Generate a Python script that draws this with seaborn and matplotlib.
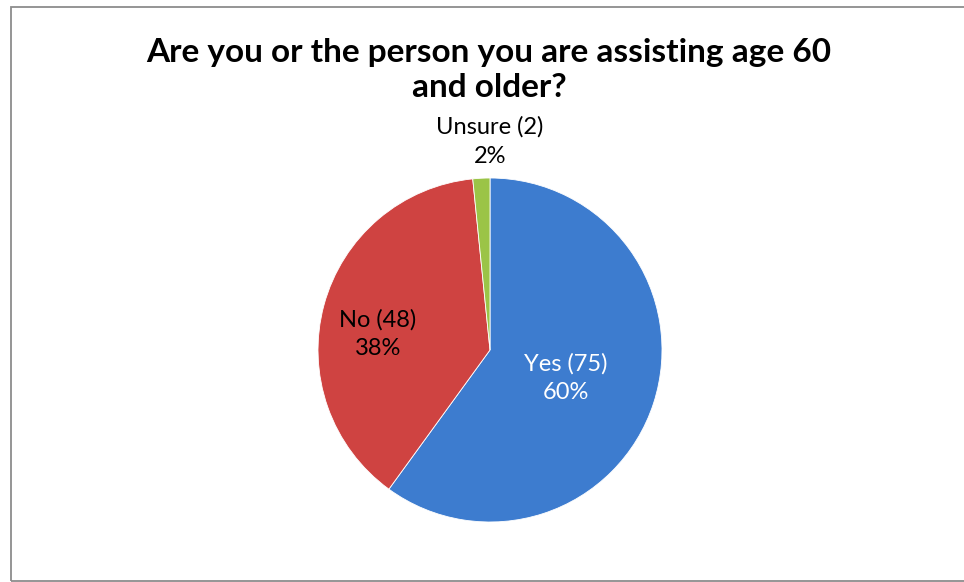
import matplotlib
matplotlib.use("Agg")
import matplotlib.pyplot as plt
import seaborn as sns
import numpy as np
from matplotlib.patches import Rectangle

sns.set_theme(style="white")
plt.rcParams["font.family"] = ["Lato", "DejaVu Sans"]

# Survey answers
categories = ["Yes", "No", "Unsure"]
counts = [75, 48, 2]
percents = ["60%", "38%", "2%"]
title = "Are you or the person you are assisting age 60\nand older?"

colors = ["#3D7CCF", "#CF4341", "#9BC447"]
label_colors = ["white", "black", "black"]

W, H = 964, 582
fig = plt.figure(figsize=(W / 100, H / 100), dpi=100)
fig.patch.set_facecolor("white")

# Chart frame
frame = Rectangle((10.5 / W, 1 - 580.5 / H), 1.2, (580.5 - 6.5) / H,
                  transform=fig.transFigure, fill=False,
                  edgecolor="#8c8c8c", linewidth=1.3)
fig.add_artist(frame)

# Pie axes: centre (490, 350) px, radius 172 px
cx, cy, r = 490, 350, 172
ax = fig.add_axes([(cx - r) / W, 1 - (cy + r) / H, 2 * r / W, 2 * r / H])
wedges, _ = ax.pie(counts, colors=colors, startangle=90, counterclock=False,
                   radius=1.0,
                   wedgeprops=dict(edgecolor="white", linewidth=0.6))
ax.set_xlim(-1, 1)
ax.set_ylim(-1, 1)
ax.set_aspect("equal")
ax.axis("off")

# Data labels: "Category (count)" over percentage
dists = [0.47, 0.66, 1.21]
angle_shift = [-2.2, 7.0, -2.9]
spacing = [1.42, 1.42, 1.5]
for w, cat, n, pct, d, da, tc, ls in zip(wedges, categories, counts, percents,
                                          dists, angle_shift, label_colors,
                                          spacing):
    mid = np.deg2rad((w.theta1 + w.theta2) / 2 + da)
    x, y = d * np.cos(mid), d * np.sin(mid)
    ax.text(x, y, f"{cat} ({n})\n{pct}", ha="center", va="center",
            fontsize=17, color=tc, linespacing=ls, clip_on=False)

fig.text(489 / W, 1 - 70 / H, title, ha="center", va="center",
         fontsize=24, fontweight="bold", color="black", linespacing=1.27)

fig.savefig("out.png", dpi=100)
